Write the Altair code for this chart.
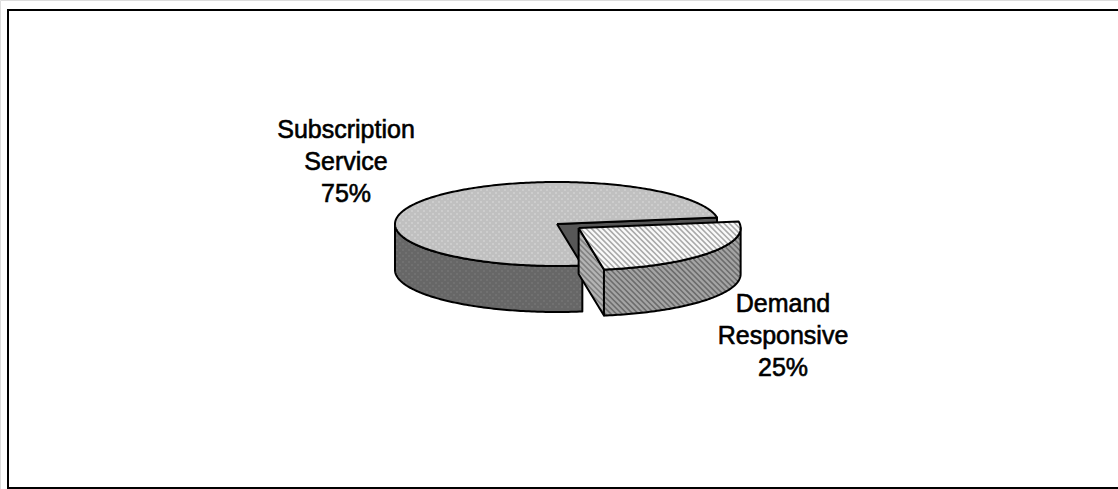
import math
import altair as alt
import pandas as pd

# ---- data ----
categories = ["Demand Responsive", "Subscription Service"]
shares = [25, 75]
label_lines = [["Demand", "Responsive", "25%"], ["Subscription", "Service", "75%"]]

# ---- layout / style constants ----
W, H = 1118, 489
CX, CY = 557, 224        # centre of the top ellipse
RX, RY = 162, 42         # ellipse radii
DEPTH = 46               # pie thickness
START = -81              # start angle (deg) of first slice, counter-clockwise
EXPLODE = [0.165, 0.0]   # explode fraction per slice
# per slice: fill for top, wall, cut face; texture: ("hatch", colour) or ("dots", colour)
TOP_FILL = ["#fafafa", "#c0c0c0"]
WALL_FILL = ["#a4a4a4", "#676767"]
CUT_FILL = ["#b4b4b4", "#575757"]
TOP_TEX = [("hatch", "#a9a9a9"), ("dots", "#ececec")]
WALL_TEX = [("hatch", "#6c6c6c"), ("dots", "#8a8a8a")]
CUT_TEX = [("hatch", "#808080"), None]
LABEL_FIRST_BASELINE = [(783, 312), (346, 138)]
LINE_STEP = 32
HATCH_STEP = 5.5
DOT_STEP = 6


def pt(cx, cy, t, dy=0.0):
    r = math.radians(t)
    return (cx + RX * math.cos(r), cy - RY * math.sin(r) + dy)


def arc(cx, cy, a0, a1, dy=0.0):
    n = max(2, int(abs(a1 - a0)) + 1)
    return [pt(cx, cy, a0 + (a1 - a0) * k / (n - 1), dy) for k in range(n)]


def hatch(poly, step):
    """Segments of lines x - y = c clipped to polygon (even-odd)."""
    vals = [p[0] - p[1] for p in poly]
    lo, hi = min(vals), max(vals)
    segs = []
    c = math.floor(lo / step) * step
    while c <= hi:
        ys = []
        for (x1, y1), (x2, y2) in zip(poly[:-1], poly[1:]):
            f1, f2 = x1 - y1 - c, x2 - y2 - c
            if (f1 < 0) != (f2 < 0):
                t = f1 / (f1 - f2)
                ys.append(y1 + t * (y2 - y1))
        ys.sort()
        for k in range(0, len(ys) - 1, 2):
            ya, yb = ys[k], ys[k + 1]
            if yb - ya > 1.0:
                segs.append((ya + c, ya, yb + c, yb))
        c += step
    return segs


def inside(poly, x, y):
    res = False
    for (x1, y1), (x2, y2) in zip(poly[:-1], poly[1:]):
        if (y1 > y) != (y2 > y):
            xi = x1 + (y - y1) * (x2 - x1) / (y2 - y1)
            if xi > x:
                res = not res
    return res


def dots(poly, step):
    xsv = [p[0] for p in poly]
    ysv = [p[1] for p in poly]
    out = []
    row = 0
    y = math.floor(min(ysv)) + 2
    while y < max(ysv) - 1:
        x = math.floor(min(xsv)) + (step / 2 if row % 2 else 0) + 2
        while x < max(xsv) - 1:
            if inside(poly, x, y) and inside(poly, x + 2, y) and inside(poly, x - 2, y) \
                    and inside(poly, x, y + 2) and inside(poly, x, y - 2):
                out.append((x, y))
            x += step
        y += step / 2
        row += 1
    return out


faces = []  # (points, fill, texture)
total = float(sum(shares))
a = START
for idx, s in enumerate(shares):
    span = 360.0 * s / total
    a0, a1 = a, a + span
    a = a1
    mid = math.radians((a0 + a1) / 2)
    cx = CX + EXPLODE[idx] * RX * math.cos(mid)
    cy = CY - EXPLODE[idx] * RY * math.sin(mid)
    slice_faces = []
    for edge, normal in ((a0, a0 - 90), (a1, a1 + 90)):
        if math.sin(math.radians(normal)) < 0:
            rt = pt(cx, cy, edge)
            rb = pt(cx, cy, edge, DEPTH)
            poly = [(cx, cy), rt, rb, (cx, cy + DEPTH), (cx, cy)]
            slice_faces.append((poly, CUT_FILL[idx], CUT_TEX[idx]))
    n = int(abs(a1 - a0)) + 1
    angs = [a0 + (a1 - a0) * k / (n - 1) for k in range(n)]
    front = [t for t in angs if math.sin(math.radians(t)) <= 1e-9]
    if len(front) > 1:
        top = [pt(cx, cy, t) for t in front]
        bot = [pt(cx, cy, t, DEPTH) for t in reversed(front)]
        poly = top + bot + [top[0]]
        slice_faces.append((poly, WALL_FILL[idx], WALL_TEX[idx]))
    poly = [(cx, cy)] + arc(cx, cy, a0, a1) + [(cx, cy)]
    slice_faces.append((poly, TOP_FILL[idx], TOP_TEX[idx]))
    faces.append(slice_faces)

order = [1, 0]  # big slice behind, exploded slice in front

xs = alt.Scale(domain=[0, W], nice=False, zero=False)
ys = alt.Scale(domain=[0, H], nice=False, zero=False, reverse=True)
X = lambda f: alt.X(f, scale=xs, axis=None)
Y = lambda f: alt.Y(f, scale=ys, axis=None)

layers = []
k = pd.DataFrame({"k": [0]})
rule_style = dict(stroke="black", strokeWidth=2)
layers.append(alt.Chart(k).mark_rule(**rule_style).encode(
    x=alt.value(8), y=alt.value(9), y2=alt.value(489)))
layers.append(alt.Chart(k).mark_rule(**rule_style).encode(
    x=alt.value(7), x2=alt.value(1118), y=alt.value(10)))
layers.append(alt.Chart(k).mark_rule(**rule_style).encode(
    x=alt.value(7), x2=alt.value(1118), y=alt.value(488)))

for idx in order:
    for poly, fill, tex in faces[idx]:
        df = pd.DataFrame({"i": list(range(len(poly))),
                           "x": [p[0] for p in poly],
                           "y": [p[1] for p in poly]})
        layers.append(alt.Chart(df).mark_line(fill=fill, strokeWidth=0).encode(
            x=X("x:Q"), y=Y("y:Q"), order=alt.Order("i:Q")))
        if tex is not None and tex[0] == "hatch":
            segs = hatch(poly, HATCH_STEP)
            if segs:
                hd = pd.DataFrame(segs, columns=["x", "y", "x2", "y2"])
                layers.append(alt.Chart(hd).mark_rule(
                    stroke=tex[1], strokeWidth=1.6, strokeCap="butt").encode(
                    x=X("x:Q"), y=Y("y:Q"), x2="x2:Q", y2="y2:Q"))
        elif tex is not None and tex[0] == "dots":
            dp = dots(poly, DOT_STEP)
            if dp:
                dd = pd.DataFrame(dp, columns=["x", "y"])
                layers.append(alt.Chart(dd).mark_square(
                    size=1.5, color=tex[1], opacity=1).encode(
                    x=X("x:Q"), y=Y("y:Q")))
        layers.append(alt.Chart(df).mark_line(
            stroke="black", strokeWidth=2, strokeJoin="round").encode(
            x=X("x:Q"), y=Y("y:Q"), order=alt.Order("i:Q")))

lab_rows = []
for idx, lines in enumerate(label_lines):
    bx, by = LABEL_FIRST_BASELINE[idx]
    for j, line in enumerate(lines):
        lab_rows.append({"x": bx, "y": by + j * LINE_STEP, "text": line})
labels = alt.Chart(pd.DataFrame(lab_rows)).mark_text(
    font="Liberation Sans", fontSize=25, color="black", align="center",
    baseline="alphabetic", stroke="black", strokeWidth=0.6
).encode(x=X("x:Q"), y=Y("y:Q"), text="text:N")
layers.append(labels)

chart = alt.layer(*layers).properties(
    width=W, height=H, autosize=alt.AutoSizeParams(type="none"), padding=0
).configure_view(stroke=None).configure(background="white")

chart.save("out.html", embed_options={"renderer": "svg", "actions": False})
